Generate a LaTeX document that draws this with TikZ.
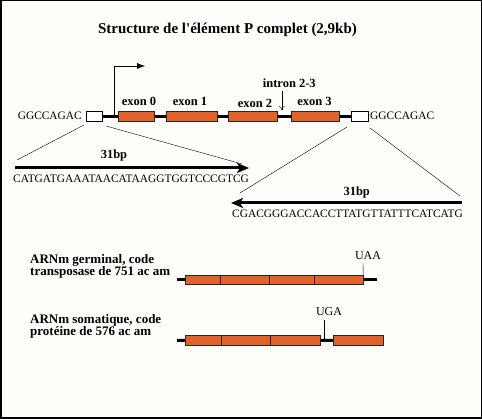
\documentclass[tikz,border=0pt]{standalone}
\usepackage{fontspec}
\setmainfont{Liberation Serif}
\usetikzlibrary{arrows.meta}
\definecolor{exonorange}{RGB}{226,98,44}
\definecolor{paper}{RGB}{254,254,250}
\tikzset{
	exon/.style={draw=black!85,fill=exonorange,minimum height=10pt,inner sep=0pt},
	irbox/.style={draw,fill=white,minimum height=10pt,inner sep=0pt},
	lbl/.style={font=\fontsize{12.5}{12}\selectfont\bfseries,inner sep=0pt,anchor=base},
	seq/.style={font=\fontsize{11.4}{11}\selectfont,inner sep=0pt,anchor=base},
	dna/.style={line width=3pt},
	bigarrow/.style={line width=3pt,-{Stealth[length=12pt,width=10pt,inset=3pt]}},
}
\begin{document}
\begin{tikzpicture}[x=1pt,y=-1pt]
	\fill[paper] (0,0) rectangle (482,419);
	\useasboundingbox (0,0) rectangle (482,419);
	\draw[line width=1.5pt] (0.75,0.75) rectangle (481.25,418.25);
	\node[font=\fontsize{15}{14}\selectfont\bfseries,inner sep=0pt,anchor=base] (titre) at (227.5,33.5){Structure de l\textquotesingle élément P complet (2,9kb)};
	% element P
	\node[irbox,minimum width=16pt] (ir1) at (94,116.5){};
	\node[irbox,minimum width=17pt] (ir2) at (359.5,116.5){};
	\draw[dna] (ir1.east)--(ir2.west);
	\node[exon,minimum width=36pt] (e0) at (136,116.5){};
	\node[exon,minimum width=51pt] (e1) at (191.5,116.5){};
	\node[exon,minimum width=49pt] (e2) at (252.5,116.5){};
	\node[exon,minimum width=48pt] (e3) at (315,116.5){};
	\node[lbl] (l0) at (139,106){exon 0};
	\node[lbl] (l1) at (190,106){exon 1};
	\node[lbl] (l2) at (255,107.5){exon 2};
	\node[lbl] (l3) at (314.5,106){exon 3};
	\node[lbl] (intron) at (289.3,87.7){intron 2-3};
	\coordinate (i1) at (281.7,90.7);
	\coordinate (i2) at (281.7,110);
	\draw[-{To[length=4pt,width=6pt]}] (i1)--(i2);
	\node[seq,anchor=base east] (ggl) at (82,120){GGCCAGAC};
	\node[seq,anchor=base west] (ggr) at (370,120){GGCCAGAC};
	% promoteur
	\coordinate (tss) at (114.3,117);
	\coordinate (tss2) at (145,66);
	\draw[-{Latex[length=8pt,width=6pt]}] (tss)|-(tss2);
	% extremites 31bp
	\coordinate (a1) at (15,168);
	\coordinate (b1) at (249,168);
	\coordinate (a2) at (462,203);
	\coordinate (b2) at (231,203);
	\draw[bigarrow] (a1)--(b1);
	\draw[bigarrow] (a2)--(b2);
	\draw (84,125)--(17,160);
	\draw (106,126)--(242,164);
	\draw (347,127)--(240,193);
	\draw (370,128)--(460,196);
	\node[lbl] (bp1) at (114,159){31bp};
	\node[lbl] (bp2) at (356.7,196){31bp};
	\node[seq,anchor=base west] (s1) at (13,182.7){CATGATGAAATAACATAAGGTGGTCCCGTCG};
	\node[seq,anchor=base west] (s2) at (232,218){CGACGGGACCACCTTATGTTATTTCATCATG};
	% ARNm germinal
	\node[lbl,anchor=base west,align=left,font=\fontsize{13}{12.3}\selectfont\bfseries] (germ) at (30,276){ARNm germinal, code\\transposase de 751 ac am};
	\coordinate (gl) at (177,280);
	\coordinate (gr) at (377,280);
	\draw[dna] (gl)--(gr);
	\node[exon,minimum height=9.5pt,minimum width=35pt] (g1) at (202.5,279.7){};
	\node[exon,minimum height=9.5pt,minimum width=49pt] (g2) at (244.5,279.7){};
	\node[exon,minimum height=9.5pt,minimum width=45pt] (g3) at (291.5,279.7){};
	\node[exon,minimum height=9.5pt,minimum width=49pt] (g4) at (338.5,279.7){};
	\coordinate (uaa) at (363,263);
	\draw (g4.north east)--(uaa);
	\node[seq,font=\fontsize{12}{12}\selectfont] (stop1) at (368,260){UAA};
	% ARNm somatique
	\node[lbl,anchor=base west,align=left,font=\fontsize{13}{12.3}\selectfont\bfseries] (soma) at (30,336){ARNm somatique, code\\protéine de 576 ac am};
	\coordinate (sl) at (177,340.5);
	\node[exon,minimum height=9.5pt,minimum width=50pt] (s4) at (358,340.3){};
	\draw[dna] (sl)--(s4.west);
	\node[exon,minimum height=9.5pt,minimum width=36pt] (sa) at (203,340.3){};
	\node[exon,minimum height=9.5pt,minimum width=49pt] (sb) at (245.5,340.3){};
	\node[exon,minimum height=9.5pt,minimum width=50pt] (sc) at (295,340.3){};
	\coordinate (uga1) at (324,320);
	\coordinate (uga2) at (324,339);
	\draw (uga1)--(uga2);
	\node[seq,font=\fontsize{12}{12}\selectfont] (stop2) at (329,316){UGA};
\end{tikzpicture}
\end{document}
